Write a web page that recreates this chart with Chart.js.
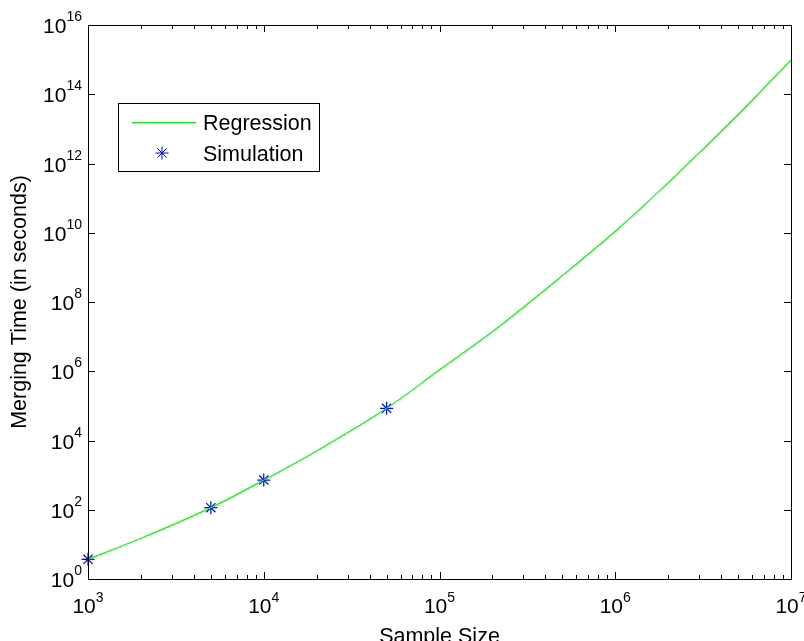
<!DOCTYPE html>
<html lang="en">
<head>
    <meta charset="UTF-8">
    <title>Merging Time</title>
    <script src="https://cdn.jsdelivr.net/npm/chart.js"></script>
    <style>
        html, body { margin:0; padding:0; background:#fff; }
    </style>
</head>
<body>
    <canvas id="myChart" width="804" height="641"></canvas>

    <script>
        // simulation points
        const simSizes = [1000, 5000, 10000, 50000];
        const simTimes = [3.7, 115, 720, 85000];

        // regression curve, sampled along the plotted line
        const regSizes = [1e3, 2e3, 5e3, 1e4, 2e4, 5e4, 1e5, 2e5, 5e5, 1e6, 2e6, 5e6, 1e7];
        const regTimes = [3.7, 15, 115, 720, 5.0e3, 8.5e4, 1.1e6, 1.4e7, 5.8e8, 1.1e10, 2.8e11, 2.6e13, 9.8e14];

        // tick labels (powers of ten)
        const xTickExps = [3, 4, 5, 6, 7];
        const yTickExps = [0, 2, 4, 6, 8, 10, 12, 14, 16];

        const xTitle = 'Sample Size';
        const yTitle = 'Merging Time (in seconds)';
        const legendLabels = ['Regression', 'Simulation'];

        const FONT = '"Liberation Sans", Arial, sans-serif';

        // star marker like matlab '*'
        const drawStar = (ctx, cx, cy, r) => {
            const d = r * Math.SQRT1_2;
            ctx.beginPath();
            ctx.moveTo(cx - r, cy); ctx.lineTo(cx + r, cy);
            ctx.moveTo(cx, cy - r); ctx.lineTo(cx, cy + r);
            ctx.moveTo(cx - d, cy - d); ctx.lineTo(cx + d, cy + d);
            ctx.moveTo(cx - d, cy + d); ctx.lineTo(cx + d, cy - d);
            ctx.stroke();
        };

        // box, inward ticks, 10^n labels, titles and legend
        const framePlugin = {
            id: 'frame',
            afterDraw(chart) {
                const ctx = chart.ctx;
                const a = chart.chartArea;
                const x = chart.scales.x, y = chart.scales.y;
                ctx.save();
                ctx.strokeStyle = '#000';
                ctx.lineWidth = 1;
                ctx.strokeRect(Math.round(a.left) + 0.5, Math.round(a.top) + 0.5,
                    Math.round(a.right - a.left), Math.round(a.bottom - a.top));

                // x ticks (major + minor)
                ctx.beginPath();
                for (let e = xTickExps[0]; e < xTickExps[xTickExps.length - 1]; e++) {
                    for (let m = 1; m <= 9; m++) {
                        const px = Math.round(x.getPixelForValue(m * Math.pow(10, e))) + 0.5;
                        const len = m === 1 ? 7 : 4;
                        ctx.moveTo(px, a.bottom); ctx.lineTo(px, a.bottom - len);
                        ctx.moveTo(px, a.top); ctx.lineTo(px, a.top + len);
                    }
                }
                // y ticks
                yTickExps.forEach(e => {
                    const py = Math.round(y.getPixelForValue(Math.pow(10, e))) + 0.5;
                    ctx.moveTo(a.left, py); ctx.lineTo(a.left + 7, py);
                    ctx.moveTo(a.right, py); ctx.lineTo(a.right - 7, py);
                });
                ctx.stroke();

                ctx.fillStyle = '#000';
                ctx.textBaseline = 'alphabetic';
                // y labels
                yTickExps.forEach(e => {
                    const py = y.getPixelForValue(Math.pow(10, e));
                    ctx.font = '14px ' + FONT;
                    const ex = String(e);
                    const we = ctx.measureText(ex).width;
                    ctx.textAlign = 'right';
                    ctx.fillText(ex, a.left - 6, py - 4);
                    ctx.font = '21px ' + FONT;
                    ctx.fillText('10', a.left - 6 - we, py + 8);
                });
                // x labels
                xTickExps.forEach(e => {
                    const px = x.getPixelForValue(Math.pow(10, e));
                    const ex = String(e);
                    ctx.font = '14px ' + FONT;
                    const we = ctx.measureText(ex).width;
                    ctx.font = '21px ' + FONT;
                    const wb = ctx.measureText('10').width;
                    const start = px - (wb + we) / 2;
                    ctx.textAlign = 'left';
                    ctx.fillText('10', start, a.bottom + 34);
                    ctx.font = '14px ' + FONT;
                    ctx.fillText(ex, start + wb, a.bottom + 23);
                });

                // axis titles
                ctx.font = '21.5px ' + FONT;
                ctx.textAlign = 'center';
                ctx.fillText(xTitle, (a.left + a.right) / 2, 643);
                ctx.save();
                ctx.translate(26, (a.top + a.bottom) / 2);
                ctx.rotate(-Math.PI / 2);
                ctx.fillText(yTitle, 0, 0);
                ctx.restore();

                // legend
                const lx = 118, ly = 103, lw = 201, lh = 68;
                ctx.fillStyle = '#fff';
                ctx.fillRect(lx, ly, lw, lh);
                ctx.strokeStyle = '#000';
                ctx.strokeRect(lx + 0.5, ly + 0.5, lw, lh);
                ctx.strokeStyle = '#00ff00';
                ctx.lineWidth = 1.2;
                ctx.beginPath();
                ctx.moveTo(132, 122.5); ctx.lineTo(196, 122.5);
                ctx.stroke();
                ctx.strokeStyle = '#0000ff';
                ctx.lineWidth = 1;
                drawStar(ctx, 162, 153, 6.5);
                ctx.fillStyle = '#000';
                ctx.textAlign = 'left';
                ctx.font = '21.5px ' + FONT;
                ctx.fillText(legendLabels[0], 203, 129.5);
                ctx.fillText(legendLabels[1], 203, 160.5);
                ctx.restore();
            }
        };

        const data = {
            datasets: [{
                label: legendLabels[0],
                data: regSizes.map((s, i) => ({x: s, y: regTimes[i]})),
                showLine: true,
                borderColor: '#00ff00',
                borderWidth: 1.2,
                pointRadius: 0,
                cubicInterpolationMode: 'monotone',
                fill: false
            }, {
                label: legendLabels[1],
                data: simSizes.map((s, i) => ({x: s, y: simTimes[i]})),
                showLine: false,
                clip: false,
                pointStyle: 'star',
                pointRadius: 6.5,
                borderColor: '#0000ff',
                backgroundColor: '#0000ff',
                borderWidth: 1.2
            }]
        };

        const options = {
            responsive: false,
            animation: false,
            devicePixelRatio: 1,
            layout: { padding: { left: 0, right: 13, top: 25, bottom: 0 } },
            plugins: { legend: { display: false }, tooltip: { enabled: false } },
            scales: {
                x: {
                    type: 'logarithmic',
                    min: 1e3, max: 1e7,
                    ticks: { display: false },
                    grid: { display: false },
                    border: { display: false },
                    afterFit: (s) => { s.height = 62; }
                },
                y: {
                    type: 'logarithmic',
                    min: 1, max: 1e16,
                    ticks: { display: false },
                    grid: { display: false },
                    border: { display: false },
                    afterFit: (s) => { s.width = 88; }
                }
            }
        };

        const ctx = document.querySelector('#myChart').getContext('2d');
        const myChart = new Chart(ctx, {
            type: 'scatter',
            data: data,
            options: options,
            plugins: [framePlugin]
        });
    </script>
</body>
</html>
